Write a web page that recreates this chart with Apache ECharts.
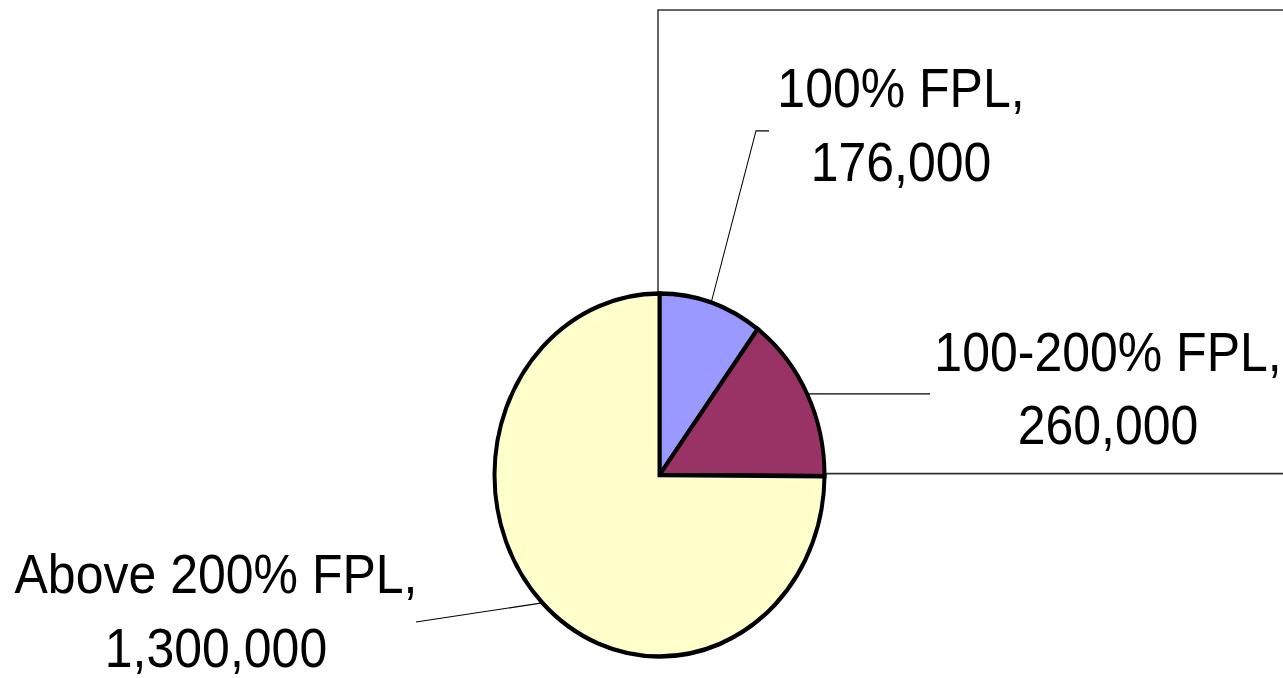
<!DOCTYPE html>
<html>
<head>
<meta charset="utf-8">
<script src="https://cdn.jsdelivr.net/npm/echarts@6/dist/echarts.min.js"></script>
<style>
  html, body { margin: 0; padding: 0; background: #fff; width: 1283px; height: 678px; overflow: hidden; }
  #chart { width: 1283px; height: 616.36px; transform: scaleY(1.1); transform-origin: 0 0; }
</style>
</head>
<body>
<div id="chart"></div>
<script>
// ---- data ----
const categories = ['100% FPL', '100-200% FPL', 'Above 200% FPL'];
const values = [176000, 260000, 1300000];

// ---- styling / layout (not data) ----
const sliceColors = ['#9999FF', '#993366', '#FFFFCC'];
const labelPos = [
  { x: 901, y: 113.6 },
  { x: 1108, y: 353 },
  { x: 216, y: 555 }
];

function fmt(v) { return v.toString().replace(/\B(?=(\d{3})+(?!\d))/g, ','); }

const chart = echarts.init(document.getElementById('chart'), null, { renderer: 'svg' });

const option = {
  backgroundColor: '#ffffff',
  animation: false,
  graphic: [{
    type: 'rect',
    z: 0,
    shape: { x: 658, y: 9.1, width: 700, height: 421.5 },
    style: { fill: 'none', stroke: '#333333', lineWidth: 1.5 }
  }],
  series: [{
    type: 'pie',
    z: 2,
    center: [659.5, 431.8],
    radius: 165,
    startAngle: 90,
    clockwise: true,
    avoidLabelOverlap: false,
    data: categories.map((c, i) => ({
      name: c,
      value: values[i],
      itemStyle: { color: sliceColors[i] }
    })),
    itemStyle: { borderColor: '#000000', borderWidth: 4, borderJoin: 'miter' },
    label: {
      show: true,
      position: 'outside',
      formatter: p => p.name + ',\n' + fmt(p.value),
      fontFamily: 'Liberation Sans, Arial, sans-serif',
      fontSize: 50,
      lineHeight: 67,
      color: '#000000',
      align: 'center'
    },
    labelLine: {
      show: true,
      lineStyle: { color: '#000000', width: 1 }
    },
    emphasis: { disabled: true },
    labelLayout: function (params) {
      const i = params.dataIndex;
      const p0 = params.labelLinePoints ? params.labelLinePoints[0] : [0, 0];
      let pts;
      if (i === 0) pts = [p0, [756, 119], [769, 119]];
      else if (i === 1) pts = [p0, [930, p0[1]]];
      else pts = [p0, [416, 565.5]];
      return {
        x: labelPos[i].x,
        y: labelPos[i].y,
        align: 'center',
        verticalAlign: 'middle',
        labelLinePoints: pts
      };
    }
  }]
};
chart.setOption(option);
</script>
</body>
</html>
